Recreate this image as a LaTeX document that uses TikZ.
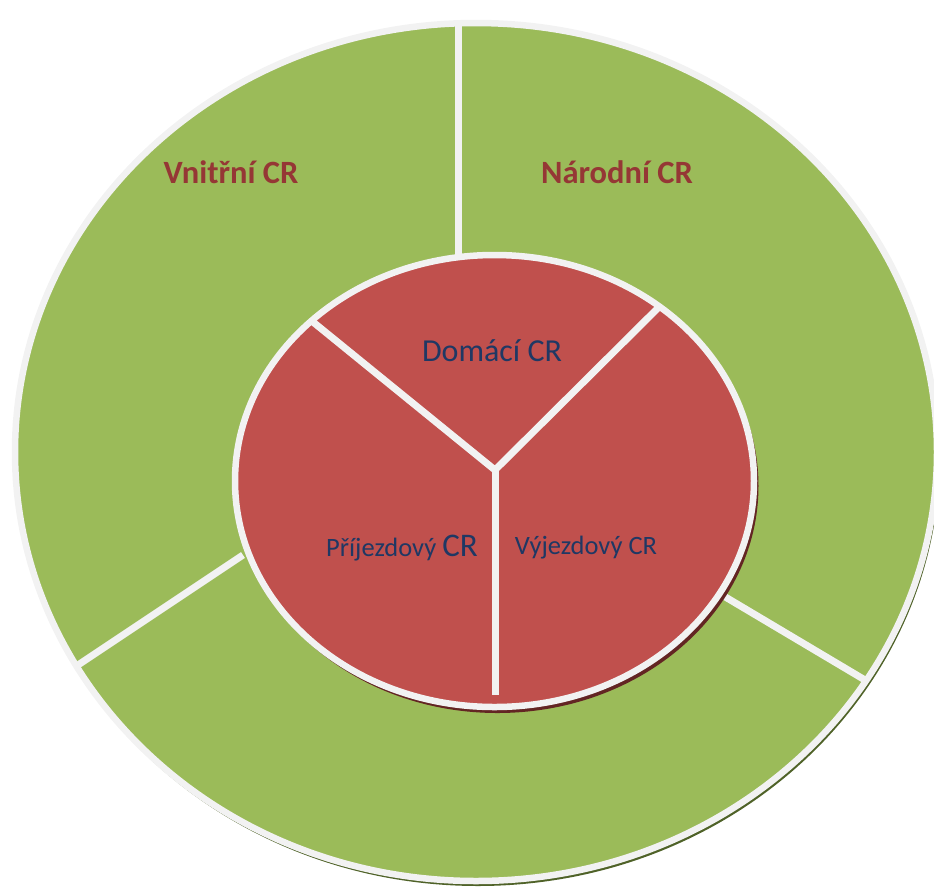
\documentclass[tikz,border=0pt]{standalone}
\usepackage{fontspec}
\setmainfont{Carlito}
\usetikzlibrary{positioning}
\definecolor{ringgreen}{RGB}{155,187,89}
\definecolor{corered}{RGB}{192,80,77}
\definecolor{rimwhite}{RGB}{242,242,242}
\definecolor{labelred}{RGB}{149,55,53}
\definecolor{labelblue}{RGB}{31,56,100}
\definecolor{greenshadow}{RGB}{79,98,40}
\definecolor{redshadow}{RGB}{99,37,35}

\begin{document}
\begin{tikzpicture}[x=1pt, y=-1pt,
        rim/.style={draw=rimwhite, line width=6.5pt},
        divider/.style={rimwhite, line width=7pt},
        ringlabel/.style={text=labelred, font=\fontsize{32.5}{38}\selectfont\bfseries},
        corelabel/.style={text=labelblue}]
        \useasboundingbox (0,0) rectangle (934,887);
        \clip (0,0) rectangle (934,887);
        \coordinate (outer) at (476,452);
        \coordinate (inner) at (494.5,481);
        \coordinate (hub) at (495,470);
        
        % outer ring
        \fill[greenshadow] ([shift={(2,4)}]outer) ellipse [x radius=462, y radius=430];
        \fill[ringgreen] (outer) ellipse [x radius=461, y radius=429];
        \draw[divider] (458,25) -- (458,300);
        \draw[divider] (243,555) -- (78,665);
        \draw[divider] (722,595) -- (865,680);
        \draw[rim] (outer) ellipse [x radius=461, y radius=429];
        
        % inner core
        \fill[redshadow] ([shift={(3,5)}]inner) ellipse [x radius=261, y radius=227];
        \fill[corered, rim] (inner) ellipse [x radius=259.5, y radius=226];
        \draw[divider] (313,322) -- (hub) -- (659,307);
        \draw[divider, line cap=butt] (hub) -- (495,695);
        
        \node[ringlabel] (vnitrni) at (231,172) {Vnitřní CR};
        \node[ringlabel] (narodni) at (617,172) {Národní CR};
        \node[corelabel, font=\fontsize{32}{38}\selectfont] (domaci) at (492,351) {Domácí CR};
        \node[corelabel, font=\fontsize{26.5}{32}\selectfont] (prijezdovy) at (402,548) {Příjezdový {\fontsize{33}{38}\selectfont CR}};
        \node[corelabel, font=\fontsize{26.5}{32}\selectfont] (vyjezdovy) at (586,548) {Výjezdový CR};
\end{tikzpicture}
\end{document}
